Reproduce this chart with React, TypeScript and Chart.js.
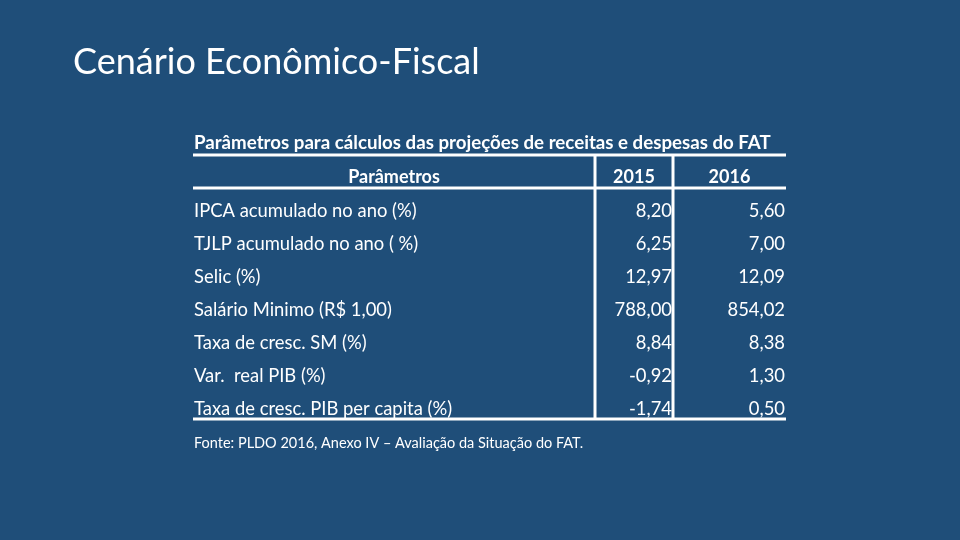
import React, { useEffect, useRef } from "react";
import { Chart, registerables } from "chart.js";

Chart.register(...registerables);

const slideTitle = "Cenário Econômico-Fiscal";
const tableTitle = "Parâmetros para cálculos das projeções de receitas e despesas do FAT";
const columnHeaders = ["Parâmetros", "2015", "2016"];
const parameters = [
  "IPCA acumulado no ano (%)",
  "TJLP acumulado no ano ( %)",
  "Selic (%)",
  "Salário Minimo (R$ 1,00)",
  "Taxa de cresc. SM (%)",
  "Var.  real PIB (%)",
  "Taxa de cresc. PIB per capita (%)",
];
const values2015 = [8.2, 6.25, 12.97, 788.0, 8.84, -0.92, -1.74];
const values2016 = [5.6, 7.0, 12.09, 854.02, 8.38, 1.3, 0.5];
const sourceNote = "Fonte: PLDO 2016, Anexo IV – Avaliação da Situação do FAT.";

const BG = "#1F4E79";
const FG = "#FFFFFF";
const FONT = "Lato, 'Open Sans', sans-serif";

// column edges in table units (relative widths)
const COL_EDGES = [0, 402, 480, 593];

const fmt = (v: number) => v.toFixed(2).replace(".", ",");

export default function App() {
  const ref = useRef<HTMLCanvasElement | null>(null);

  useEffect(() => {
    document.body.style.margin = "0";
    const canvas = ref.current!;
    const rowLabels = ["__header__", ...parameters];

    const tablePlugin = {
      id: "tablePlugin",
      beforeDraw(chart: any) {
        const ctx = chart.ctx;
        ctx.save();
        ctx.fillStyle = BG;
        ctx.fillRect(0, 0, chart.width, chart.height);
        ctx.restore();
      },
      afterDraw(chart: any) {
        const ctx = chart.ctx as CanvasRenderingContext2D;
        const xs = chart.scales.x;
        const ys = chart.scales.y;
        const area = chart.chartArea;
        const band = ys.getPixelForValue(1) - ys.getPixelForValue(0);
        const rowBottom = (i: number) => ys.getPixelForValue(i) + band / 2;

        ctx.save();
        ctx.fillStyle = FG;
        ctx.strokeStyle = FG;

        // slide title
        ctx.font = `36px ${FONT}`;
        ctx.textAlign = "left";
        ctx.textBaseline = "alphabetic";
        ctx.fillText(slideTitle, 73, 74);

        // table title
        ctx.font = `bold 18.7px ${FONT}`;
        ctx.fillText(tableTitle, xs.getPixelForValue(COL_EDGES[0]) + 1, area.top - 6);

        // lines
        ctx.lineWidth = 3;
        const left = xs.getPixelForValue(COL_EDGES[0]);
        const right = xs.getPixelForValue(COL_EDGES[3]);
        const hLines = [area.top, rowBottom(0), area.bottom];
        hLines.forEach((y) => {
          ctx.beginPath();
          ctx.moveTo(left, y);
          ctx.lineTo(right, y);
          ctx.stroke();
        });
        [COL_EDGES[1], COL_EDGES[2]].forEach((e) => {
          const x = xs.getPixelForValue(e);
          ctx.beginPath();
          ctx.moveTo(x, area.top);
          ctx.lineTo(x, area.bottom);
          ctx.stroke();
        });

        // header
        ctx.font = `bold 18px ${FONT}`;
        ctx.textAlign = "center";
        columnHeaders.forEach((h, c) => {
          const cx = (xs.getPixelForValue(COL_EDGES[c]) + xs.getPixelForValue(COL_EDGES[c + 1])) / 2;
          ctx.fillText(h, cx, rowBottom(0) - 5);
        });

        // row labels
        ctx.font = `18.4px ${FONT}`;
        ctx.textAlign = "left";
        parameters.forEach((p, i) => {
          ctx.fillText(p, left + 1, rowBottom(i + 1) - 4);
        });

        // values from dataset elements
        ctx.textAlign = "right";
        chart.data.datasets.forEach((ds: any, di: number) => {
          const meta = chart.getDatasetMeta(di);
          meta.data.forEach((el: any, i: number) => {
            const v = ds.data[i].v as number;
            ctx.fillText(fmt(v), el.x - 1, el.y + band / 2 - 4);
          });
        });

        // source note
        ctx.font = `14.5px ${FONT}`;
        ctx.textAlign = "left";
        ctx.fillText(sourceNote, left + 1, area.bottom + 29);

        ctx.restore();
      },
    };

    const chart = new Chart(canvas, {
      type: "scatter",
      data: {
        datasets: [
          {
            label: "2015",
            data: values2015.map((v, i) => ({ x: COL_EDGES[2], y: parameters[i], v })) as any,
            pointRadius: 0,
          },
          {
            label: "2016",
            data: values2016.map((v, i) => ({ x: COL_EDGES[3], y: parameters[i], v })) as any,
            pointRadius: 0,
          },
        ],
      },
      options: {
        animation: false,
        responsive: false,
        events: [],
        layout: { padding: { left: 193, right: 174, top: 155, bottom: 121 } },
        plugins: { legend: { display: false }, tooltip: { enabled: false } },
        scales: {
          x: { type: "linear", min: COL_EDGES[0], max: COL_EDGES[3], display: false },
          y: { type: "category", labels: rowLabels, offset: true, display: false },
        },
      },
      plugins: [tablePlugin],
    });
    return () => chart.destroy();
  }, []);

  return (
    <div style={{ width: 960, height: 540, background: BG }}>
      <canvas ref={ref} width={960} height={540} style={{ display: "block" }} />
    </div>
  );
}
